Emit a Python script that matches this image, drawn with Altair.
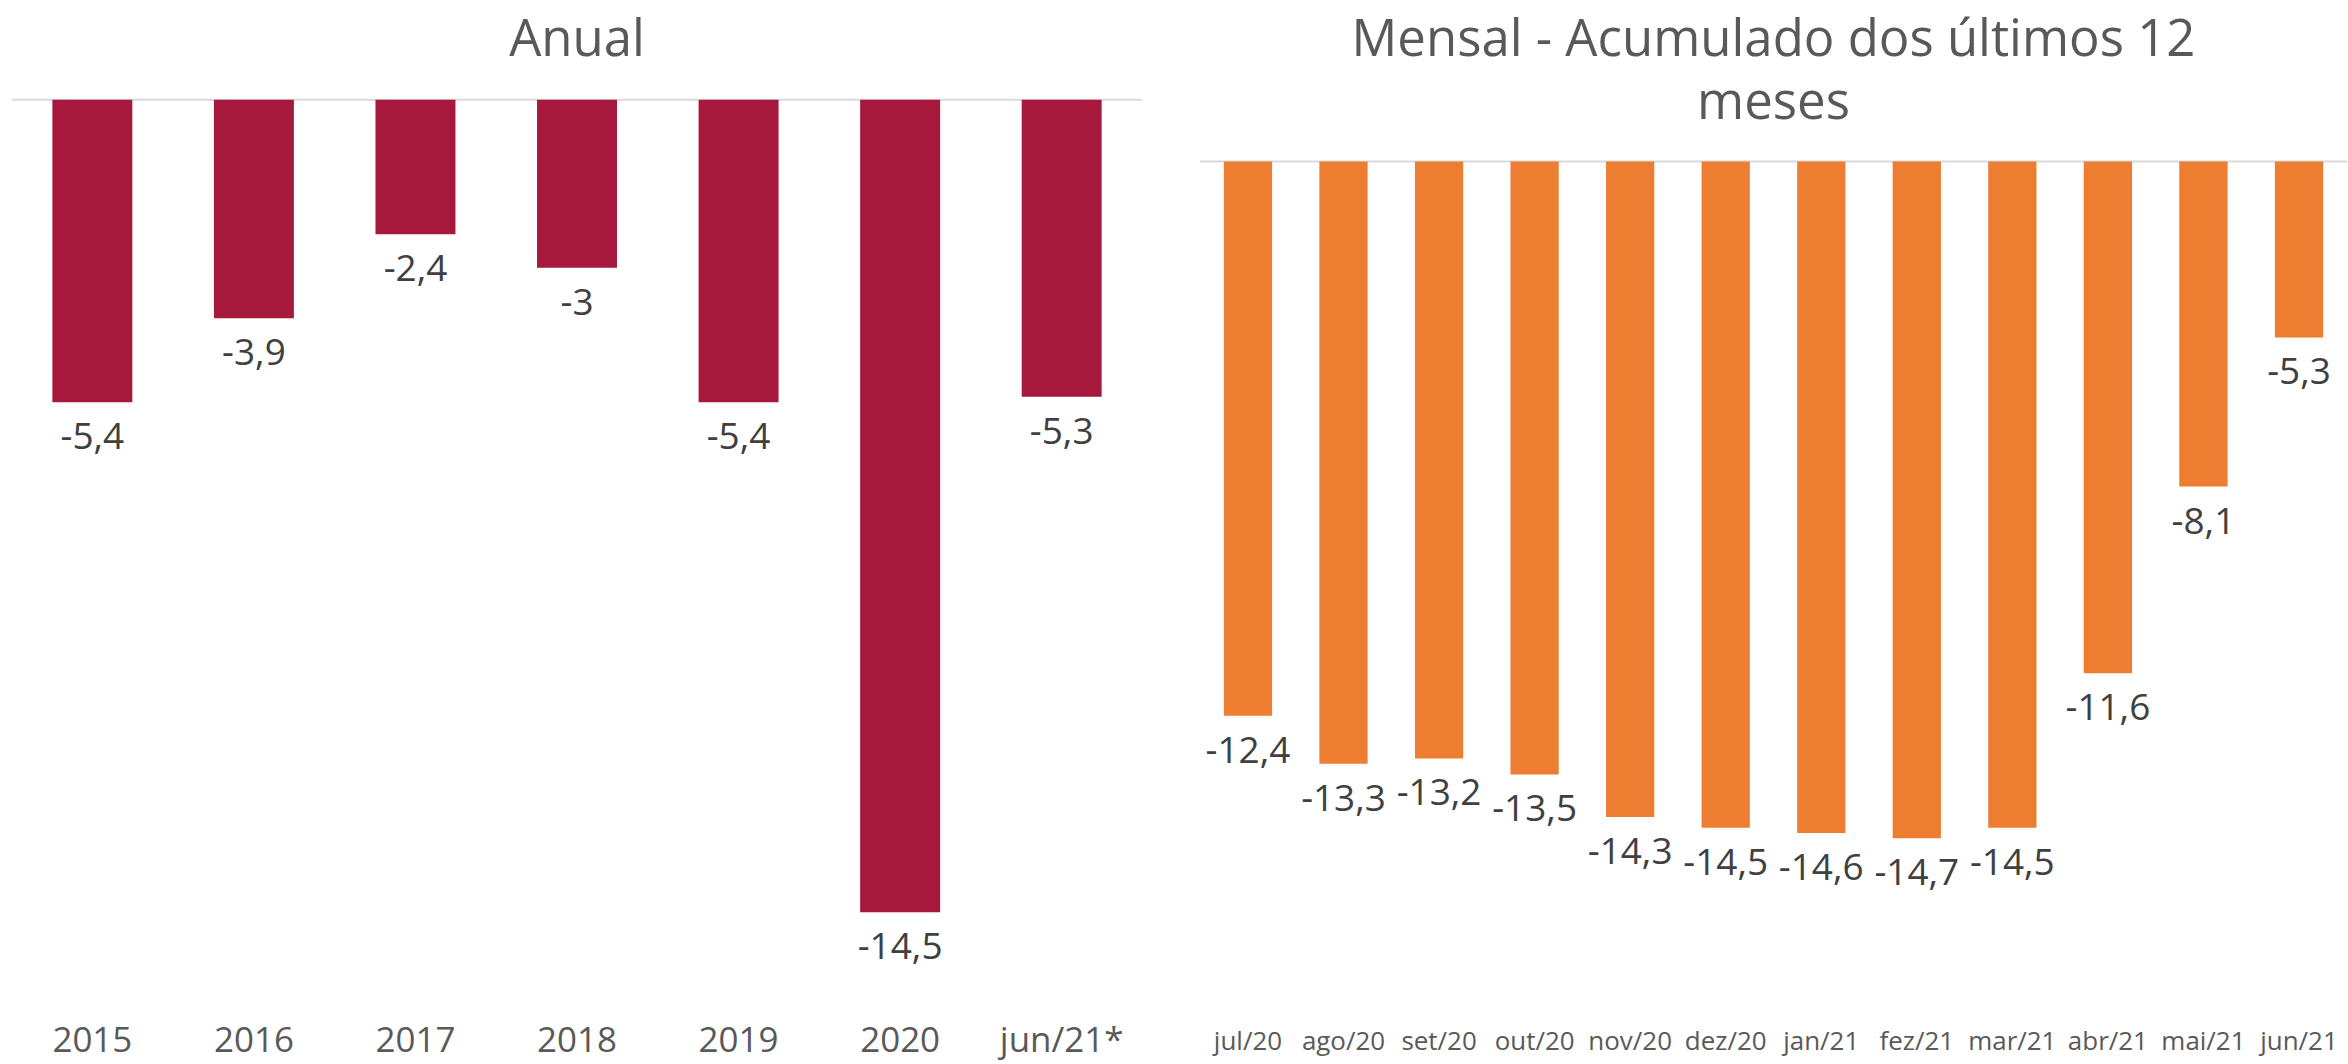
import altair as alt
import pandas as pd

# ---- data ----
anos = ["2015", "2016", "2017", "2018", "2019", "2020", "jun/21*"]
anual = [-5.4, -3.9, -2.4, -3.0, -5.4, -14.5, -5.3]

meses = ["jul/20", "ago/20", "set/20", "out/20", "nov/20", "dez/20",
         "jan/21", "fez/21", "mar/21", "abr/21", "mai/21", "jun/21"]
mensal = [-12.4, -13.3, -13.2, -13.5, -14.3, -14.5, -14.6, -14.7, -14.5, -11.6, -8.1, -5.3]

titulo_anual = "Anual"
titulo_mensal = ["Mensal - Acumulado dos últimos 12", "meses"]


def fmt(v):
    return f"{v:g}".replace(".", ",")


FONT = "Open Sans"
TITLE_COLOR = "#595959"
LABEL_COLOR = "#404040"

df1 = pd.DataFrame({"cat": anos, "val": anual, "lab": [fmt(v) for v in anual]})
df2 = pd.DataFrame({"cat": meses, "val": mensal, "lab": [fmt(v) for v in mensal]})


def panel(df, order, color, dom, base, w, h, pin, pout, axis_fs, axis_pad, title, toff):
    x = alt.X(
        "cat:N", sort=order, title=None,
        scale=alt.Scale(paddingInner=pin, paddingOuter=pout),
        axis=alt.Axis(orient="bottom", labelAngle=0, domain=False, ticks=False,
                      tickSize=0, labelPadding=axis_pad, labelFontSize=axis_fs,
                      labelColor=TITLE_COLOR, labelFont=FONT, grid=False),
    )
    yscale = alt.Scale(domain=dom, nice=False, zero=False)
    y = alt.Y("val:Q", scale=yscale, axis=None)
    base_chart = alt.Chart(df)
    bars = base_chart.mark_bar(color=color).encode(x=x, y=y, y2=alt.datum(base))
    labels = base_chart.mark_text(
        baseline="middle", align="center", dy=36, fontSize=37, font=FONT, color=LABEL_COLOR
    ).encode(x=x, y=y, text="lab:N")
    rule = alt.Chart(pd.DataFrame({"b": [base]})).mark_rule(
        color="#d9d9d9", strokeWidth=2
    ).encode(y=alt.Y("b:Q", scale=yscale, axis=None))
    return alt.layer(rule, bars, labels).properties(
        width=w, height=h,
        title=alt.TitleParams(text=title, fontSize=51, font=FONT, color=TITLE_COLOR,
                              fontWeight="normal", anchor="middle", offset=toff,
                              frame="group", baseline="alphabetic", lineHeight=63),
    )


left = panel(df1, anos, "#A6193C", [-16, 0], 0, 1132, 898, 0.505, 0.25, 35, 27,
             titulo_anual, -8)
right = panel(df2, meses, "#ED7D31", [-18, -0.84], -2, 1149, 916, 0.495, 0.25, 26, 14,
              titulo_mensal, -70)

chart = alt.hconcat(left, right, spacing=56).properties(
    padding={"left": 11, "top": 14, "right": 0, "bottom": 3},
    background="white",
).configure_view(stroke=None)

chart.save("out.html", embed_options={"renderer": "svg", "actions": False})
